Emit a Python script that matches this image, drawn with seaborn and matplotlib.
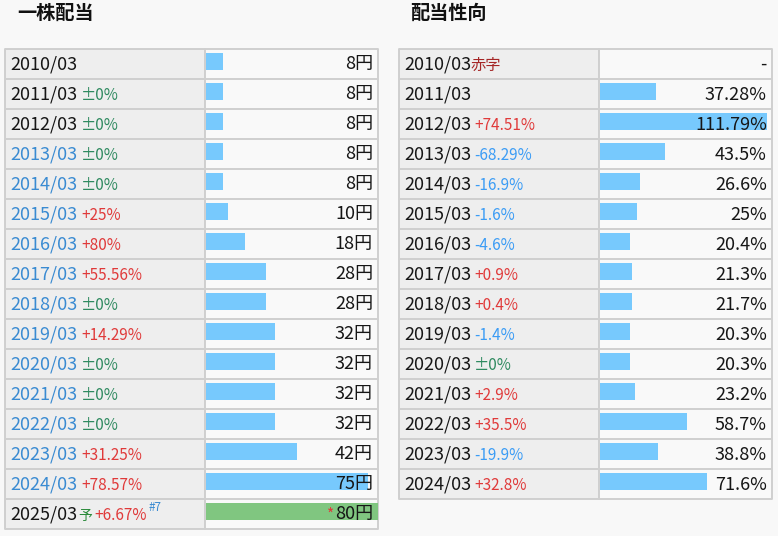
import numpy as np
import pandas as pd
import matplotlib
matplotlib.use("Agg")
import matplotlib.pyplot as plt
from matplotlib.patches import Rectangle
import seaborn as sns

# ---------------- data ----------------
div_years = ["2010/03", "2011/03", "2012/03", "2013/03", "2014/03", "2015/03", "2016/03",
             "2017/03", "2018/03", "2019/03", "2020/03", "2021/03", "2022/03", "2023/03",
             "2024/03", "2025/03"]
div_values = [8, 8, 8, 8, 8, 10, 18, 28, 28, 32, 32, 32, 32, 42, 75, 80]
div_kind = ["実績"] * 15 + ["予想"]
div_changes = ["", "±0%", "±0%", "±0%", "±0%", "+25%", "+80%", "+55.56%", "±0%", "+14.29%",
               "±0%", "±0%", "±0%", "+31.25%", "+78.57%", "+6.67%"]
div_year_blue = [False, False, False, True, True, True, True, True, True, True, True, True,
                 True, True, True, False]

pay_years = ["2010/03", "2011/03", "2012/03", "2013/03", "2014/03", "2015/03", "2016/03",
             "2017/03", "2018/03", "2019/03", "2020/03", "2021/03", "2022/03", "2023/03",
             "2024/03"]
pay_values = [np.nan, 37.28, 111.79, 43.5, 26.6, 25, 20.4, 21.3, 21.7, 20.3, 20.3, 23.2,
              58.7, 38.8, 71.6]
pay_labels = ["-", "37.28%", "111.79%", "43.5%", "26.6%", "25%", "20.4%", "21.3%", "21.7%",
              "20.3%", "20.3%", "23.2%", "58.7%", "38.8%", "71.6%"]
pay_changes = ["赤字", "", "+74.51%", "-68.29%", "-16.9%", "-1.6%", "-4.6%", "+0.9%", "+0.4%",
               "-1.4%", "±0%", "+2.9%", "+35.5%", "-19.9%", "+32.8%"]

# ---------------- style ----------------
sns.set_theme(style="white")
plt.rcParams['font.family'] = ['Noto Sans CJK JP', 'DejaVu Sans']

W, H = 778, 536
BG = "#f8f8f8"
LABEL_BG = "#eeeeee"
GRID = "#cfcfcf"
BAR_BLUE = "#77c9fd"
BAR_GREEN = "#80c680"
YEAR_BLUE = "#3a8bd2"
RED = "#e03a3a"
MINUS_BLUE = "#3b9cf5"
ZERO_GREEN = "#2f8a60"
TXT = "#161616"

fig = plt.figure(figsize=(W / 100, H / 100), dpi=100, facecolor=BG)

# background axes in pixel coordinates for the table structure
base = fig.add_axes([0, 0, 1, 1], zorder=0)
base.set_xlim(0, W)
base.set_ylim(H, 0)
base.axis("off")

# top overlay axes for text
top_ax = fig.add_axes([0, 0, 1, 1], zorder=10)
top_ax.set_xlim(0, W)
top_ax.set_ylim(H, 0)
top_ax.axis("off")
top_ax.patch.set_alpha(0)

ROW_H = 30
TOP = 49
YEAR_FS = 13
CHG_FS = 11


def change_color(s):
    if s.startswith("+"):
        return RED
    if s.startswith("-"):
        return MINUS_BLUE
    return ZERO_GREEN


def draw_table(x0, xsep, x1, nrows):
    y1 = TOP + nrows * ROW_H
    base.add_patch(Rectangle((x0, TOP), xsep - x0, y1 - TOP, facecolor=LABEL_BG,
                             edgecolor="none", zorder=0))
    base.add_patch(Rectangle((xsep, TOP), x1 - xsep, y1 - TOP, facecolor="#f9f9f9",
                             edgecolor="none", zorder=0))
    for k in range(nrows + 1):
        y = TOP + k * ROW_H
        base.plot([x0, x1], [y, y], color=GRID, lw=1.4, zorder=1, solid_capstyle="butt")
    base.plot([x0, x0], [TOP, y1], color=GRID, lw=1.4, zorder=1)
    base.plot([x1, x1], [TOP, y1], color=GRID, lw=1.4, zorder=1)
    base.plot([xsep, xsep], [TOP, y1], color=GRID, lw=1.4, zorder=1)


def bar_axes(xl, xr, nrows):
    top = TOP + 12.5 - ROW_H / 2
    bottom = top + nrows * ROW_H
    ax = fig.add_axes([xl / W, 1 - bottom / H, (xr - xl) / W, (bottom - top) / H], zorder=2)
    ax.patch.set_alpha(0)
    return ax


def text(x, y, s, **kw):
    top_ax.text(x, y, s, va=kw.pop("va", "center"), **kw)


# ---- titles ----
text(17, 13, "一株配当", fontsize=13.8, fontweight="bold", ha="left", color="#111111")
text(410, 13, "配当性向", fontsize=13.8, fontweight="bold", ha="left", color="#111111")

# ---- left table ----
L0, LSEP, L1 = 5.5, 205.5, 378.5
draw_table(L0, LSEP, L1, len(div_years))
ax1 = bar_axes(206, 378, len(div_years))
df1 = pd.DataFrame({"year": div_years, "value": div_values, "kind": div_kind})
sns.barplot(data=df1, x="value", y="year", hue="kind", order=div_years,
            palette={"実績": BAR_BLUE, "予想": BAR_GREEN}, dodge=False, width=0.57,
            orient="h", legend=False, ax=ax1, saturation=1, linewidth=0)
ax1.set_xlim(0, 172 / 2.16)
ax1.set_ylim(len(div_years) - 0.5, -0.5)
ax1.axis("off")

for k, (yr, v, ch, blue) in enumerate(zip(div_years, div_values, div_changes, div_year_blue)):
    yc = TOP + ROW_H * k + 15.5
    text(10, yc, yr, fontsize=YEAR_FS, color=YEAR_BLUE if blue else TXT, ha="left")
    xc = 81
    if div_kind[k] == "予想":
        text(78, yc + 1.5, "予", fontsize=10, color="#2a8a3a", ha="left")
        xc = 94
    if ch:
        text(xc, yc + 1, ch, fontsize=CHG_FS, color=change_color(ch), ha="left")
    if div_kind[k] == "予想":
        text(149, yc - 7, "#7", fontsize=8.5, color=YEAR_BLUE, ha="left")
        text(334, yc + 1, "*", fontsize=11, color=RED, ha="right")
    text(373, yc, f"{v}円", fontsize=YEAR_FS, color=TXT, ha="right")

# ---- right table ----
R0, RSEP, R1 = 399.5, 599.5, 772
draw_table(R0, RSEP, R1, len(pay_years))
ax2 = bar_axes(600, 771, len(pay_years))
df2 = pd.DataFrame({"year": pay_years, "value": pay_values}).dropna()
sns.barplot(data=df2, x="value", y="year", order=pay_years, color=BAR_BLUE, width=0.57,
            orient="h", ax=ax2, saturation=1, linewidth=0)
ax2.set_xlim(0, 171 / 1.49)
ax2.set_ylim(len(pay_years) - 0.5, -0.5)
ax2.axis("off")

for k, (yr, lab, ch) in enumerate(zip(pay_years, pay_labels, pay_changes)):
    yc = TOP + ROW_H * k + 15.5
    text(404, yc, yr, fontsize=YEAR_FS, color=TXT, ha="left")
    if ch == "赤字":
        text(471, yc + 1, ch, fontsize=CHG_FS, color="#a52525", ha="left")
    elif ch:
        text(474, yc + 1, ch, fontsize=CHG_FS, color=change_color(ch), ha="left")
    text(767, yc, lab, fontsize=YEAR_FS, color=TXT, ha="right")

fig.savefig("out.png", dpi=100, facecolor=BG)
